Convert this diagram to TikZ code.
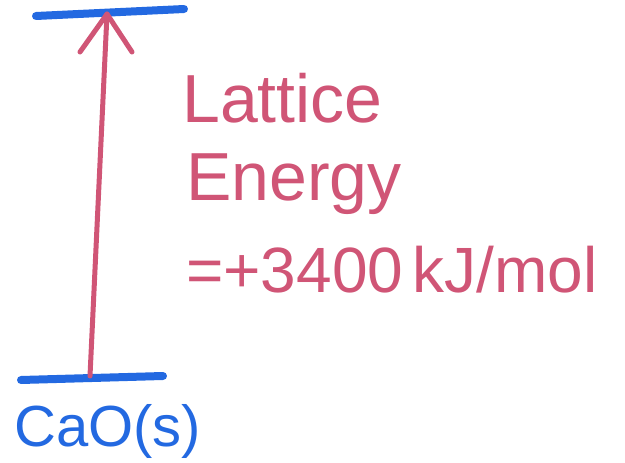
\documentclass[tikz,border=0pt]{standalone}
\usepackage{fontspec}
\setmainfont{Liberation Sans}
\definecolor{penblue}{RGB}{35,105,225}
\definecolor{penpink}{RGB}{208,85,118}
\begin{document}
\begin{tikzpicture}[x=1pt,y=-1pt,
  level/.style={draw=penblue,line width=8pt,line cap=round},
  pinkline/.style={draw=penpink,line width=5pt,line cap=round,line join=round},
  pinktext/.style={text=penpink,font=\fontsize{68}{72}\selectfont,inner sep=0pt,anchor=base west},
  bluetext/.style={text=penblue,font=\fontsize{58}{62}\selectfont,inner sep=0pt,anchor=base west}]
\useasboundingbox (0,0) rectangle (625,463);
% energy levels
\coordinate (tl) at (36,16);
\coordinate (tr) at (184,9);
\draw[level] (tl) -- (tr);
\coordinate (bl) at (21,380);
\coordinate (br) at (163,376);
\draw[level] (bl) -- (br);
% arrow
\coordinate (a0) at (90,376);
\coordinate (a1) at (107,14);
\coordinate (wl) at (80,52);
\coordinate (wr) at (132,52);
\draw[pinkline] (a0) -- (a1);
\draw[pinkline] (wl) -- (a1) -- (wr);
% labels
\node[pinktext] (t1) at (182,122) {Lattice};
\node[pinktext] (t2) at (186,200) {Energy};
\node[pinktext,font=\fontsize{64}{68}\selectfont] (t3) at (186,292) {=+3400\hspace{0.15em}kJ/mol};
\node[bluetext] (cao) at (14,446) {CaO(s)};
\end{tikzpicture}
\end{document}
